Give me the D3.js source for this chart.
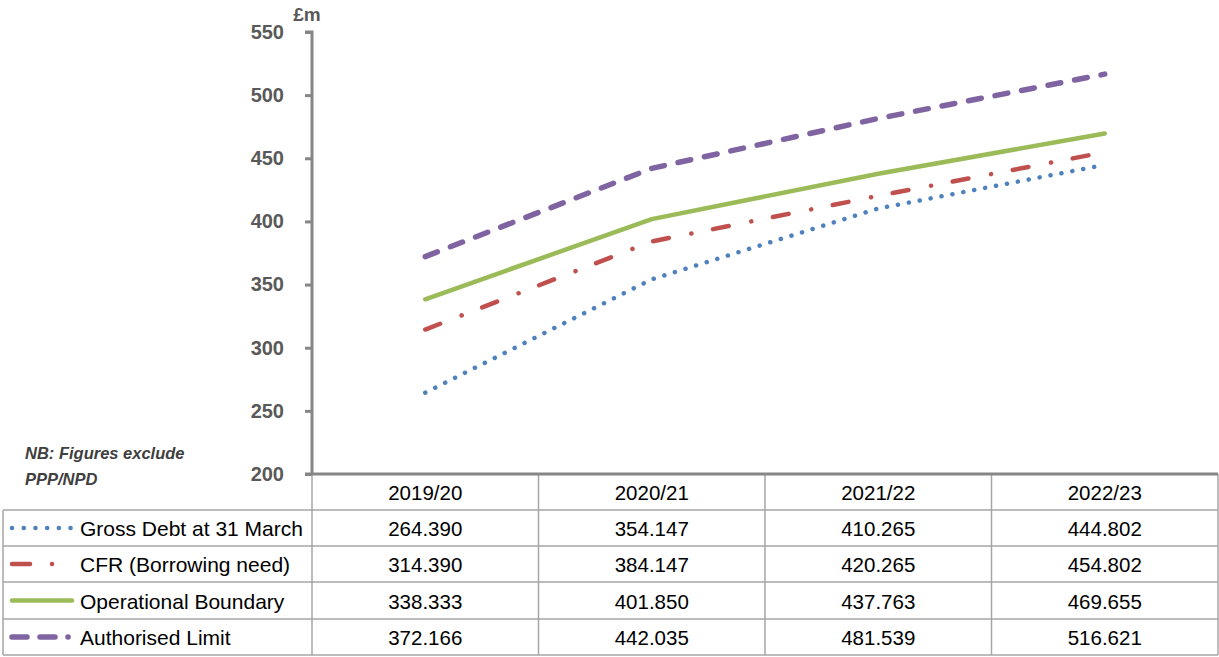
<!DOCTYPE html>
<html><head><meta charset="utf-8">
<script src="https://cdn.jsdelivr.net/npm/d3@7"></script>
<style>
body{margin:0;background:#fff;}
svg{display:block;}
</style></head>
<body><svg id="c" width="1219" height="657"></svg>
<script>
const categories = ["2019/20","2020/21","2021/22","2022/23"];
const grossDebt = [264.390, 354.147, 410.265, 444.802];
const cfr = [314.390, 384.147, 420.265, 454.802];
const operational = [338.333, 401.850, 437.763, 469.655];
const authorised = [372.166, 442.035, 481.539, 516.621];
const seriesNames = ["Gross Debt at 31 March","CFR (Borrowing need)","Operational Boundary","Authorised Limit"];
const yTicks = [200,250,300,350,400,450,500,550];

const series = [
  {name: seriesNames[0], values: grossDebt, color:"#4F81BD", width:4.5, dash:"0.1,11", legendDash:"0.1,11.6", lx1:12},
  {name: seriesNames[1], values: cfr, color:"#C0504D", width:4.5, dash:"16,23,0.1,22", legendDash:"18,22,0.1,40", lx1:12},
  {name: seriesNames[2], values: operational, color:"#9BBB59", width:4.5, dash:null, legendDash:null, lx1:12},
  {name: seriesNames[3], values: authorised, color:"#8064A2", width:5.5, dash:"13,14", legendDash:"15,13,15,13,0.1,20", lx1:12}
];

const svg = d3.select("#c");
const mLeft = 312, mRight = 1218, mTop = 32, mBottom = 474;
const x = d3.scalePoint().domain(categories).range([mLeft, mRight]).padding(0.5);
const y = d3.scaleLinear().domain([200,550]).range([mBottom, mTop]);

// y axis
const yAxis = svg.append("g").attr("transform",`translate(${mLeft},0)`)
  .call(d3.axisLeft(y).tickValues(yTicks).tickSize(7).tickPadding(21).tickFormat(d3.format("d")));
yAxis.select(".domain").attr("stroke","#868686").attr("stroke-width",3).attr("d",`M-7,${mTop}H0V${mBottom}`);
yAxis.selectAll(".tick line").attr("stroke","#868686").attr("stroke-width",3);
yAxis.selectAll(".tick text").attr("fill","#595959").attr("font-family","Liberation Sans, Arial, sans-serif")
  .attr("font-weight","bold").attr("font-size","20px");

svg.append("text").attr("x",307).attr("y",21).attr("text-anchor","middle")
  .attr("fill","#595959").attr("font-family","Liberation Sans, Arial, sans-serif")
  .attr("font-weight","bold").attr("font-size","19px").text("£m");

// NB note
const nb = svg.append("text").attr("fill","#404040").attr("font-family","Liberation Sans, Arial, sans-serif")
  .attr("font-weight","bold").attr("font-style","italic").attr("font-size","16.5px");
nb.append("tspan").attr("x",25).attr("y",459).text("NB: Figures exclude");
nb.append("tspan").attr("x",25).attr("y",485).text("PPP/NPD");

// table grid
const rowYs = [476, 510, 546, 582, 619, 655];
const colXs = [mLeft].concat(categories.map((c,i)=> i<categories.length-1 ? (x(categories[i])+x(categories[i+1]))/2 : mRight));
const grid = svg.append("g").attr("stroke","#A6A6A6").attr("stroke-width",1.5).attr("fill","none");
rowYs.slice(1).forEach(yy=>{
  grid.append("line").attr("x1",3).attr("x2",mRight).attr("y1",yy).attr("y2",yy);
});
colXs.forEach(xx=>{
  grid.append("line").attr("x1",xx).attr("x2",xx).attr("y1",mBottom).attr("y2",655);
});
grid.append("line").attr("x1",3).attr("x2",3).attr("y1",510).attr("y2",655);

// x axis line
svg.append("line").attr("x1",mLeft-7).attr("x2",mRight).attr("y1",mBottom).attr("y2",mBottom)
  .attr("stroke","#868686").attr("stroke-width",3);

// header
const txtFont = "'Liberation Sans', Arial, sans-serif";
svg.append("g").selectAll("text").data(categories).join("text")
  .attr("x",d=>x(d)).attr("y",500).attr("text-anchor","middle")
  .attr("font-family",txtFont).attr("font-size","20.5px").attr("fill","#000").text(d=>d);

// rows
series.forEach((s,i)=>{
  const yMid = (rowYs[i+1]+rowYs[i+2])/2;
  svg.append("line").attr("x1",s.lx1).attr("x2",72).attr("y1",yMid).attr("y2",yMid)
    .attr("stroke",s.color).attr("stroke-width",s.width).attr("stroke-linecap","round")
    .attr("stroke-dasharray", s.legendDash);
  svg.append("text").attr("x",80).attr("y",yMid+8).attr("font-family",txtFont)
    .attr("font-size","21px").attr("fill","#000").text(s.name);
  svg.append("g").selectAll("text").data(s.values).join("text")
    .attr("x",(d,j)=>x(categories[j])).attr("y",yMid+8).attr("text-anchor","middle")
    .attr("font-family",txtFont).attr("font-size","20.5px").attr("fill","#000").text(d=>d3.format(".3f")(d));
});

// lines
const line = d3.line().x((d,j)=>x(categories[j])).y(d=>y(d));
series.forEach(s=>{
  svg.append("path").datum(s.values).attr("d",line).attr("fill","none")
    .attr("stroke",s.color).attr("stroke-width",s.width).attr("stroke-linecap","round")
    .attr("stroke-linejoin","round").attr("stroke-dasharray",s.dash);
});
</script></body></html>
